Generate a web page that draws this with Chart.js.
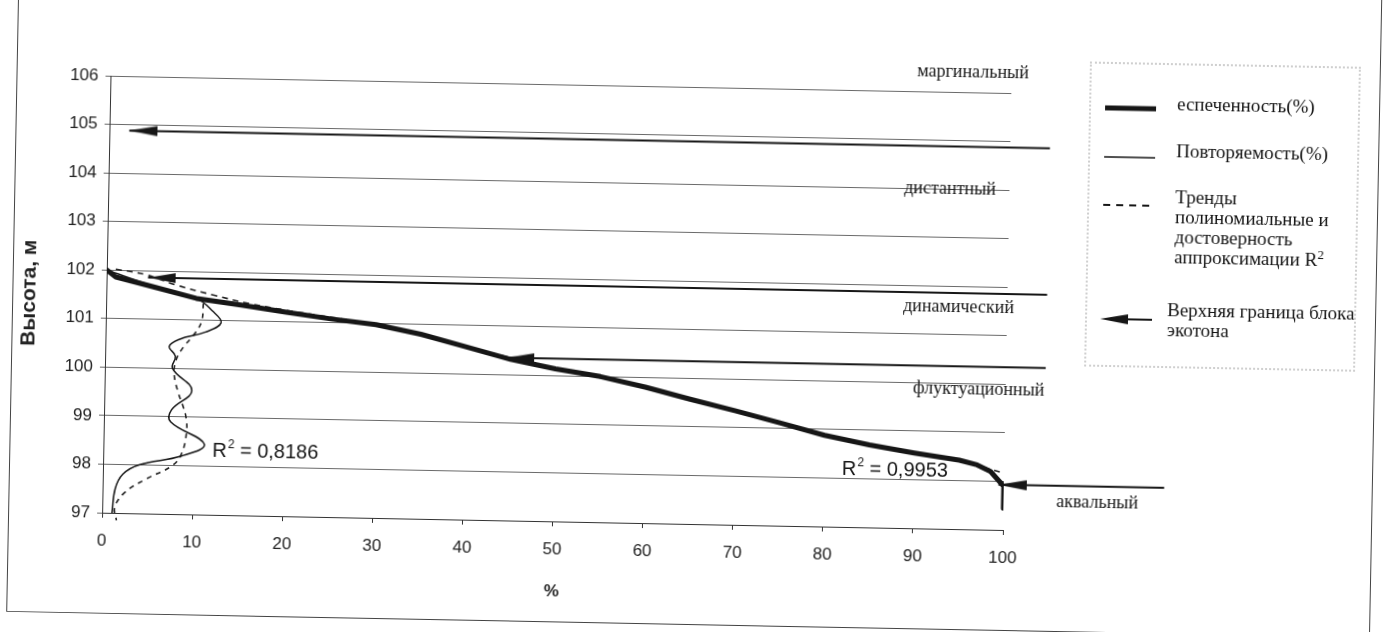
<!DOCTYPE html>
<html lang="ru">
<head>
<meta charset="utf-8">
<title>Высота, м</title>
<script src="https://cdn.jsdelivr.net/npm/chart.js@4.4.1/dist/chart.umd.min.js"></script>
<style>
  html, body { margin: 0; padding: 0; background: #fff; overflow: hidden; }
  /* the scanned original is turned about a degree clockwise */
  #page { position: relative; width: 1386px; height: 632px; transform: rotate(1.1deg); transform-origin: 693px 316px; }
  #frame { position: absolute; left: 12px; top: -20px; width: 1364px; height: 645px; border: 1px solid #444; box-sizing: border-box; }
  #chart { position: absolute; left: 0; top: 0; }
  .legend-box { position: absolute; left: 1085px; top: 54px; width: 271px; height: 305px; border: 2px dotted #cfcfcf; box-sizing: border-box; }
  .legend-text { position: absolute; font-family: "Liberation Serif", "Times New Roman", serif; font-size: 19px; line-height: 20px; color: #141414; white-space: nowrap; }
  .legend-sym { position: absolute; left: 1100px; }
</style>
</head>
<body>
<div id="page">
  <div id="frame"></div>
  <canvas id="chart" width="1386" height="632"></canvas>

  <div class="legend-box"></div>
  <svg class="legend-sym" style="top:94px" width="54" height="12"><line x1="1" y1="6" x2="52" y2="6" stroke="#161616" stroke-width="5"/></svg>
  <div class="legend-text" style="left:1173px; top:85px">еспеченность(%)</div>
  <svg class="legend-sym" style="top:143px" width="54" height="12"><line x1="1" y1="6" x2="52" y2="6" stroke="#161616" stroke-width="1.5"/></svg>
  <div class="legend-text" style="left:1173px; top:132px">Повторяемость(%)</div>
  <svg class="legend-sym" style="top:191px" width="54" height="12"><line x1="1" y1="6" x2="52" y2="6" stroke="#161616" stroke-width="1.8" stroke-dasharray="7,6"/></svg>
  <div class="legend-text" style="left:1173px; top:178px">Тренды<br>полиномиальные и<br>достоверность<br>аппроксимации R<sup style="font-size:13px; line-height:0">2</sup></div>
  <svg class="legend-sym" style="top:304px" width="54" height="14"><polygon points="0,7 28,2 28,12" fill="#161616"/><line x1="20" y1="7" x2="52" y2="7" stroke="#161616" stroke-width="2"/></svg>
  <div class="legend-text" style="left:1167px; top:291px">Верхняя граница блока<br>экотона</div>
</div>

<script>
// Высота над уровнем (м) против процента: обеспеченность, повторяемость, тренды, границы блоков экотона

const xTicks = [0, 10, 20, 30, 40, 50, 60, 70, 80, 90, 100];
const yTicks = [97, 98, 99, 100, 101, 102, 103, 104, 105, 106];

// обеспеченность (%) — толстая линия
const espX = [0, 1, 5, 10, 15, 20, 25, 30, 35, 40, 45, 50, 55, 60, 65, 70, 75, 80, 85, 90, 95, 97, 98.5, 99.5, 100, 100];
const espH = [102.0, 101.86, 101.68, 101.45, 101.33, 101.2, 101.08, 100.98, 100.8, 100.56, 100.32, 100.14, 100.0, 99.8, 99.57, 99.35, 99.12, 98.88, 98.7, 98.55, 98.42, 98.33, 98.2, 98.0, 97.9, 97.45];

// полиномиальный тренд обеспеченности
const espTrendX = [1, 4.3, 7.7, 12, 16, 20, 30, 40, 50, 60, 70, 80, 90, 95, 97, 100];
const espTrendH = [102.02, 101.92, 101.72, 101.52, 101.36, 101.24, 100.97, 100.56, 100.15, 99.8, 99.36, 98.9, 98.56, 98.43, 98.32, 98.17];

// повторяемость (%) — тонкая линия
const repX = [0, 5, 10.1, 11.8, 12.8, 11.1, 8.2, 7.1, 7.8, 7.5, 9.7, 7.5, 7.4, 11.2, 8.7, 4.0, 2.2, 1.4, 1.1];
const repH = [102.0, 101.7, 101.44, 101.2, 100.96, 100.76, 100.6, 100.45, 100.25, 100.0, 99.55, 99.15, 98.9, 98.45, 98.2, 98.0, 97.8, 97.5, 97.0];

// полиномиальный тренд повторяемости
const repTrendX = [10.8, 10.6, 9.6, 8.7, 7.9, 7.7, 8.2, 8.8, 9.1, 9.2, 8.7, 7.7, 4.7, 2.5, 1.4, 1.6];
const repTrendH = [101.35, 100.96, 100.65, 100.45, 100.18, 99.88, 99.5, 99.2, 99.0, 98.7, 98.25, 98.0, 97.7, 97.43, 97.12, 96.85];

// верхние границы блоков экотона (стрелки)
const bndH = [104.88, 101.86, 100.35, 97.93];
const bndFromX = [2.2, 4.6, 44.5, 99.4];
const bndToX = [104.4, 104.4, 104.4, 117.8];

// названия блоков и R²
const zoneNames = ['маргинальный', 'дистантный', 'динамический', 'флуктуационный', 'аквальный'];
const r2Values = ['0,8186', '0,9953'];

// --- layout of in-plot text (data units) ---
const zoneAnchor = [[95.7, 106.4], [93.4, 104.0], [94.6, 101.56], [97.0, 99.88], [110.4, 97.6]];
const r2Anchor = [[12.1, 98.3], [82.0, 98.18]];

const INK = '#161616';
const toPts = (xs, ys) => xs.map((v, i) => ({ x: v, y: ys[i] }));

function makeArrowHead(len, half) {
  const c = document.createElement('canvas');
  c.width = len * 2;
  c.height = half * 2 + 2;
  const g = c.getContext('2d');
  g.fillStyle = INK;
  g.beginPath();
  g.moveTo(len, half + 1);
  g.lineTo(len * 2, 1);
  g.lineTo(len * 2, half * 2 + 1);
  g.closePath();
  g.fill();
  return c;
}
const arrowHead = makeArrowHead(28, 5);

const arrowSets = bndH.map((h, i) => ({
  label: 'Верхняя граница блока экотона',
  data: [{ x: bndFromX[i], y: h }, { x: bndToX[i], y: h }],
  borderColor: INK,
  borderWidth: 2,
  tension: 0,
  pointStyle: arrowHead,
  pointRadius: [2, 0],
  clip: false
}));

const textPlugin = {
  id: 'zoneText',
  afterDatasetsDraw(chart) {
    const { ctx, scales: { x, y } } = chart;
    ctx.save();
    ctx.fillStyle = INK;
    ctx.textBaseline = 'middle';
    ctx.textAlign = 'center';
    ctx.font = '18px "Liberation Serif"';
    zoneNames.forEach((name, i) => {
      ctx.fillText(name, x.getPixelForValue(zoneAnchor[i][0]), y.getPixelForValue(zoneAnchor[i][1]));
    });

    ctx.textAlign = 'left';
    r2Values.forEach((val, i) => {
      let px = x.getPixelForValue(r2Anchor[i][0]);
      const py = y.getPixelForValue(r2Anchor[i][1]);
      ctx.font = '20px "Liberation Sans"';
      ctx.fillText('R', px, py);
      px += ctx.measureText('R').width;
      ctx.font = '12px "Liberation Sans"';
      ctx.fillText('2', px + 1, py - 7);
      px += ctx.measureText('2').width + 1;
      ctx.font = '20px "Liberation Sans"';
      ctx.fillText(' = ' + val, px, py);
    });
    ctx.restore();
  }
};

new Chart(document.getElementById('chart'), {
  type: 'line',
  data: {
    datasets: [
      { label: 'еспеченность(%)', data: toPts(espX, espH), borderColor: INK, borderWidth: 5, tension: 0, pointRadius: 0, borderJoinStyle: 'round', borderCapStyle: 'round' },
      { label: 'Тренд', data: toPts(espTrendX, espTrendH), borderColor: '#222', borderWidth: 1.6, borderDash: [6, 5], tension: 0.4, pointRadius: 0 },
      { label: 'Повторяемость(%)', data: toPts(repX, repH), borderColor: INK, borderWidth: 1.5, tension: 0.4, pointRadius: 0, clip: false },
      { label: 'Тренд', data: toPts(repTrendX, repTrendH), borderColor: '#222', borderWidth: 1.6, borderDash: [5, 5], tension: 0.4, pointRadius: 0, clip: false },
      ...arrowSets
    ]
  },
  options: {
    responsive: false,
    animation: false,
    events: [],
    layout: { padding: { top: 87, right: 379, left: 0, bottom: 0 } },
    plugins: { legend: { display: false }, tooltip: { enabled: false } },
    scales: {
      x: {
        type: 'linear',
        min: 0,
        max: 100,
        afterBuildTicks: s => { s.ticks = xTicks.map(v => ({ value: v })); },
        afterFit: s => { s.height = 108; },
        grid: { drawOnChartArea: false, drawTicks: true, tickLength: 5, color: '#333' },
        border: { color: '#333', width: 1 },
        ticks: { color: '#222', padding: 13, maxRotation: 0, font: { family: 'Liberation Sans', size: 17 } },
        title: { display: true, text: '%', color: '#222', padding: { top: 0, bottom: 27 }, font: { family: 'Liberation Sans', size: 17, weight: 'bold' } }
      },
      y: {
        min: 97,
        max: 106,
        afterBuildTicks: s => { s.ticks = yTicks.map(v => ({ value: v })); },
        afterFit: s => { s.width = 106; },
        grid: { color: '#6a6a6a', lineWidth: 1, drawTicks: true, tickLength: 5 },
        border: { color: '#333', width: 1 },
        ticks: { color: '#222', padding: 7, font: { family: 'Liberation Sans', size: 17 } },
        title: { display: true, text: 'Высота, м', color: '#222', padding: { top: 17, bottom: 0 }, font: { family: 'Liberation Sans', size: 21, weight: 'bold' } }
      }
    }
  },
  plugins: [textPlugin]
});
</script>
</body>
</html>
